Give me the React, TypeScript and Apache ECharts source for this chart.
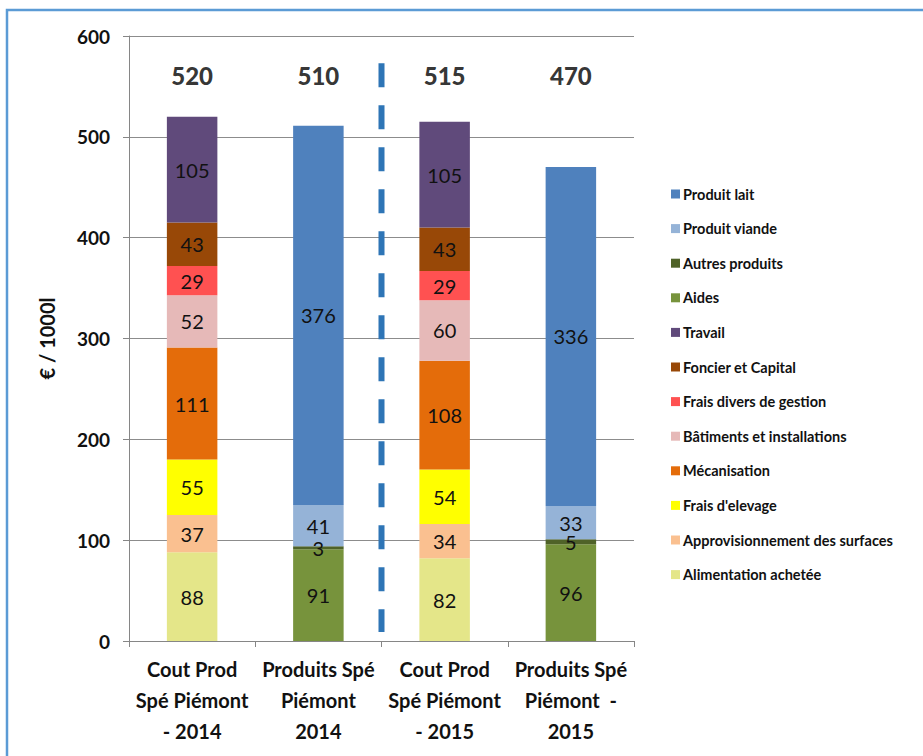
import React, { useEffect, useRef } from "react";
import * as echarts from "echarts";

const categories = [
  "Cout Prod\nSpé Piémont\n- 2014",
  "Produits Spé\nPiémont\n2014",
  "Cout Prod\nSpé Piémont\n- 2015",
  "Produits Spé\nPiémont  -\n2015",
];

const alimentation = [88, "-", 82, "-"];
const approvisionnement = [37, "-", 34, "-"];
const fraisElevage = [55, "-", 54, "-"];
const mecanisation = [111, "-", 108, "-"];
const batiments = [52, "-", 60, "-"];
const fraisDivers = [29, "-", 29, "-"];
const foncier = [43, "-", 43, "-"];
const travail = [105, "-", 105, "-"];
const aides = ["-", 91, "-", 96];
const autresProduits = ["-", 3, "-", 5];
const produitViande = ["-", 41, "-", 33];
const produitLait = ["-", 376, "-", 336];
const totals = [520, 510, 515, 470];
const totalLabelLevel = [561, 561, 561, 561];

const yTicks = { min: 0, max: 600, interval: 100 };

const FONT = "Lato, 'Open Sans', sans-serif";

const seriesDefs = [
  { name: "Alimentation achetée", data: alimentation, color: "#E4E689" },
  { name: "Approvisionnement des surfaces", data: approvisionnement, color: "#FAC090" },
  { name: "Frais d'elevage", data: fraisElevage, color: "#FFFF00" },
  { name: "Mécanisation", data: mecanisation, color: "#E46C0A" },
  { name: "Bâtiments et installations", data: batiments, color: "#E6B9B8" },
  { name: "Frais divers de gestion", data: fraisDivers, color: "#FF5151" },
  { name: "Foncier et Capital", data: foncier, color: "#984807" },
  { name: "Travail", data: travail, color: "#604A7B" },
  { name: "Aides", data: aides, color: "#77933C" },
  { name: "Autres produits", data: autresProduits, color: "#4F6228" },
  { name: "Produit viande", data: produitViande, color: "#95B3D7" },
  { name: "Produit lait", data: produitLait, color: "#4F81BD" },
];

export default function App() {
  const ref = useRef<HTMLDivElement>(null);

  useEffect(() => {
    document.body.style.margin = "0";
    const chart = echarts.init(ref.current!, null, { renderer: "svg" });

    const barSeries = seriesDefs.map((s) => ({
      name: s.name,
      type: "bar",
      stack: "total",
      barWidth: "40%",
      data: s.data,
      itemStyle: { color: s.color },
      label: {
        show: true,
        position: "inside",
        color: "#111",
        fontSize: 20,
        fontFamily: FONT,
      },
    }));

    chart.setOption({
      animation: false,
      backgroundColor: "#fff",
      grid: { left: 129, right: 289, top: 36, bottom: 115, containLabel: false },
      legend: {
        orient: "vertical",
        left: 666,
        top: 181,
        itemWidth: 9,
        itemHeight: 9,
        itemGap: 18.6,
        icon: "rect",
        data: seriesDefs.map((s) => s.name).reverse(),
        textStyle: {
          fontFamily: FONT,
          fontWeight: "bold",
          fontSize: 14.5,
          lineHeight: 16,
          color: "#111",
          padding: [0, 0, 0, -2],
        },
      },
      xAxis: {
        type: "category",
        data: categories,
        axisLine: { lineStyle: { color: "#868686", width: 1 } },
        axisTick: { show: true, length: 6, lineStyle: { color: "#868686" } },
        axisLabel: {
          fontFamily: FONT,
          fontWeight: "bold",
          fontSize: 20,
          lineHeight: 31,
          color: "#111",
          margin: 12,
          interval: 0,
        },
      },
      yAxis: {
        type: "value",
        min: yTicks.min,
        max: yTicks.max,
        interval: yTicks.interval,
        name: "€ / 1000l",
        nameLocation: "middle",
        nameRotate: 90,
        nameGap: 72,
        nameTextStyle: {
          fontFamily: FONT,
          fontWeight: "bold",
          fontSize: 20,
          color: "#111",
        },
        axisLine: { show: true, lineStyle: { color: "#868686", width: 1 } },
        axisTick: { show: true, length: 6, lineStyle: { color: "#868686" } },
        splitLine: { lineStyle: { color: "#8c8c8c", width: 1 } },
        axisLabel: {
          fontFamily: FONT,
          fontWeight: "bold",
          fontSize: 19,
          color: "#111",
          margin: 19,
        },
      },
      series: [
        ...barSeries,
        {
          name: "Total",
          type: "scatter",
          data: totalLabelLevel,
          symbolSize: 1,
          itemStyle: { color: "transparent" },
          label: {
            show: true,
            position: "inside",
            formatter: (p: any) => String(totals[p.dataIndex]),
            fontFamily: FONT,
            fontWeight: 900,
            fontSize: 24,
            color: "#000",
          },
          z: 5,
        },
      ],
    });

    const p1 = chart.convertToPixel({ xAxisIndex: 0, yAxisIndex: 0 }, [1, 573]) as number[];
    const p2 = chart.convertToPixel({ xAxisIndex: 0, yAxisIndex: 0 }, [2, 9]) as number[];
    const xMid = (p1[0] + p2[0]) / 2;

    chart.setOption({
      graphic: [
        {
          type: "line",
          shape: { x1: xMid, y1: p1[1], x2: xMid, y2: p2[1] },
          style: { stroke: "#2E75B6", lineWidth: 6, lineDash: [24, 18] },
          z: 10,
        },
        {
          type: "rect",
          shape: { x: 7, y: 10, width: 1000, height: 900 },
          style: { fill: "none", stroke: "#5B9BD5", lineWidth: 2.5 },
          z: 10,
        },
      ],
    });

    return () => chart.dispose();
  }, []);

  return (
    <div
      ref={ref}
      style={{ position: "fixed", left: 0, top: 0, width: 923, height: 756 }}
    />
  );
}
